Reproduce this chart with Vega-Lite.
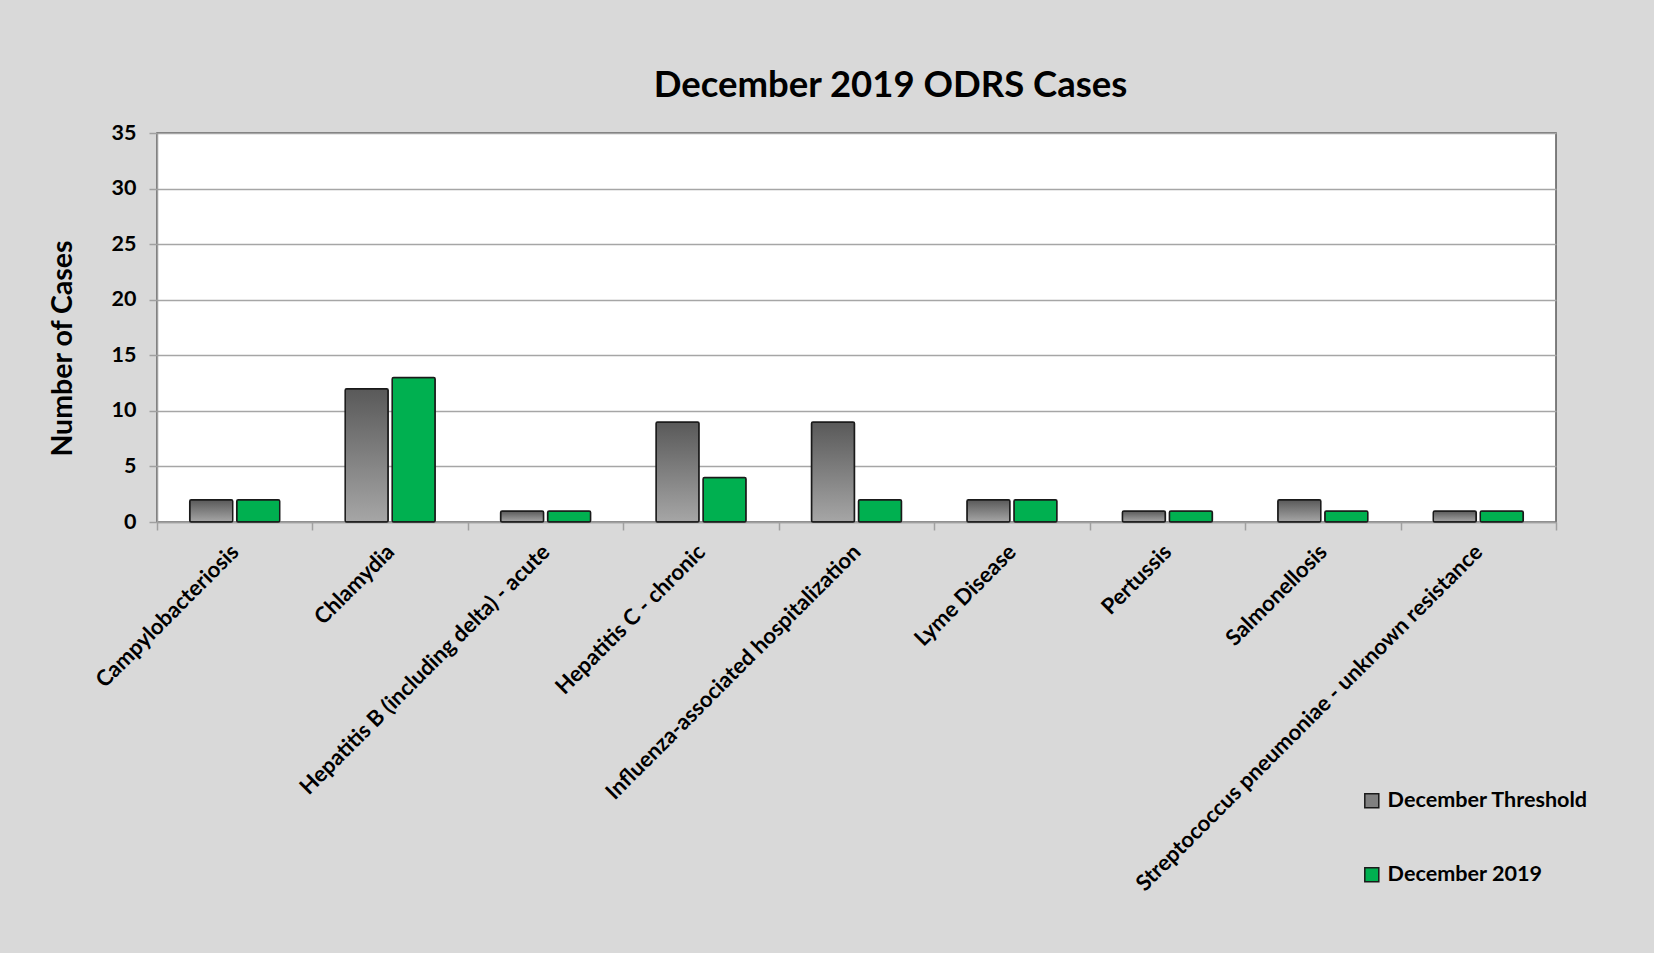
{
  "$schema": "https://vega.github.io/schema/vega-lite/v6.json",
  "width": 1399,
  "height": 389,
  "autosize": {"type": "none"},
  "padding": {"left": 157, "top": 133, "right": 98, "bottom": 431},
  "background": "#d9d9d9",
  "title": {
    "text": "December 2019 ODRS Cases",
    "font": "Lato",
    "fontSize": 36.5,
    "fontWeight": "bold",
    "color": "#000000",
    "anchor": "middle",
    "dx": 34,
    "offset": 18
  },
  "config": {
    "view": {"fill": "#ffffff", "stroke": "#5a5a5a", "strokeWidth": 1.5},
    "axis": {
      "labelFont": "Lato",
      "labelFontWeight": "bold",
      "labelColor": "#000000",
      "titleFont": "Lato",
      "titleFontWeight": "bold",
      "titleColor": "#000000",
      "domainColor": "#a0a0a0",
      "domainWidth": 1.5,
      "tickColor": "#a0a0a0",
      "tickWidth": 1.5,
      "gridColor": "#a6a6a6",
      "gridWidth": 1.5
    },
    "legend": {"labelFont": "Lato", "labelFontWeight": "bold", "labelColor": "#000000"}
  },
  "data": {
    "values": [
      {"disease": "Campylobacteriosis", "series": "December Threshold", "cases": 2},
      {"disease": "Campylobacteriosis", "series": "December 2019", "cases": 2},
      {"disease": "Chlamydia", "series": "December Threshold", "cases": 12},
      {"disease": "Chlamydia", "series": "December 2019", "cases": 13},
      {"disease": "Hepatitis B (including delta) - acute", "series": "December Threshold", "cases": 1},
      {"disease": "Hepatitis B (including delta) - acute", "series": "December 2019", "cases": 1},
      {"disease": "Hepatitis C - chronic", "series": "December Threshold", "cases": 9},
      {"disease": "Hepatitis C - chronic", "series": "December 2019", "cases": 4},
      {"disease": "Influenza-associated hospitalization", "series": "December Threshold", "cases": 9},
      {"disease": "Influenza-associated hospitalization", "series": "December 2019", "cases": 2},
      {"disease": "Lyme Disease", "series": "December Threshold", "cases": 2},
      {"disease": "Lyme Disease", "series": "December 2019", "cases": 2},
      {"disease": "Pertussis", "series": "December Threshold", "cases": 1},
      {"disease": "Pertussis", "series": "December 2019", "cases": 1},
      {"disease": "Salmonellosis", "series": "December Threshold", "cases": 2},
      {"disease": "Salmonellosis", "series": "December 2019", "cases": 1},
      {"disease": "Streptococcus pneumoniae - unknown resistance", "series": "December Threshold", "cases": 1},
      {"disease": "Streptococcus pneumoniae - unknown resistance", "series": "December 2019", "cases": 1}
    ]
  },
  "mark": {"type": "bar", "stroke": "#1a1a1a", "strokeWidth": 1.5, "cornerRadius": 1.5},
  "encoding": {
    "x": {
      "field": "disease",
      "type": "nominal",
      "sort": null,
      "scale": {"paddingInner": 0, "paddingOuter": 0},
      "axis": {
        "title": null,
        "labelAngle": -45,
        "labelAlign": "right",
        "labelBaseline": "middle",
        "labelFontSize": 22,
        "labelPadding": 18,
        "labelLimit": 1000,
        "tickBand": "extent",
        "tickSize": 8,
        "grid": false
      }
    },
    "xOffset": {
      "field": "series",
      "type": "nominal",
      "scale": {"domain": ["December Threshold", "December 2019"], "paddingInner": 0.085, "paddingOuter": 0.696}
    },
    "y": {
      "field": "cases",
      "type": "quantitative",
      "scale": {"domain": [0, 35]},
      "axis": {
        "title": "Number of Cases",
        "titleFontSize": 28.5,
        "titleAngle": -90,
        "titleX": -95,
        "titleY": 215,
        "titleAlign": "center",
        "titleBaseline": "middle",
        "values": [0, 5, 10, 15, 20, 25, 30, 35],
        "labelFontSize": 21.5,
        "labelPadding": 13,
        "tickSize": 8,
        "grid": true
      }
    },
    "fill": {
      "condition": {
        "test": "datum.series === 'December Threshold'",
        "value": {
          "gradient": "linear",
          "x1": 0, "y1": 0, "x2": 0, "y2": 1,
          "stops": [
            {"offset": 0, "color": "#595959"},
            {"offset": 1, "color": "#a6a6a6"}
          ]
        }
      },
      "field": "series",
      "type": "nominal",
      "scale": {"domain": ["December Threshold", "December 2019"], "range": ["#808080", "#00b050"]},
      "legend": {
        "title": null,
        "orient": "none",
        "legendX": 1204,
        "legendY": 657,
        "symbolType": "square",
        "symbolSize": 196,
        "symbolStrokeColor": "#1a1a1a",
        "symbolStrokeWidth": 1.5,
        "labelFontSize": 21.6,
        "labelLimit": 400,
        "labelOffset": 5,
        "rowPadding": 51
      }
    }
  }
}
